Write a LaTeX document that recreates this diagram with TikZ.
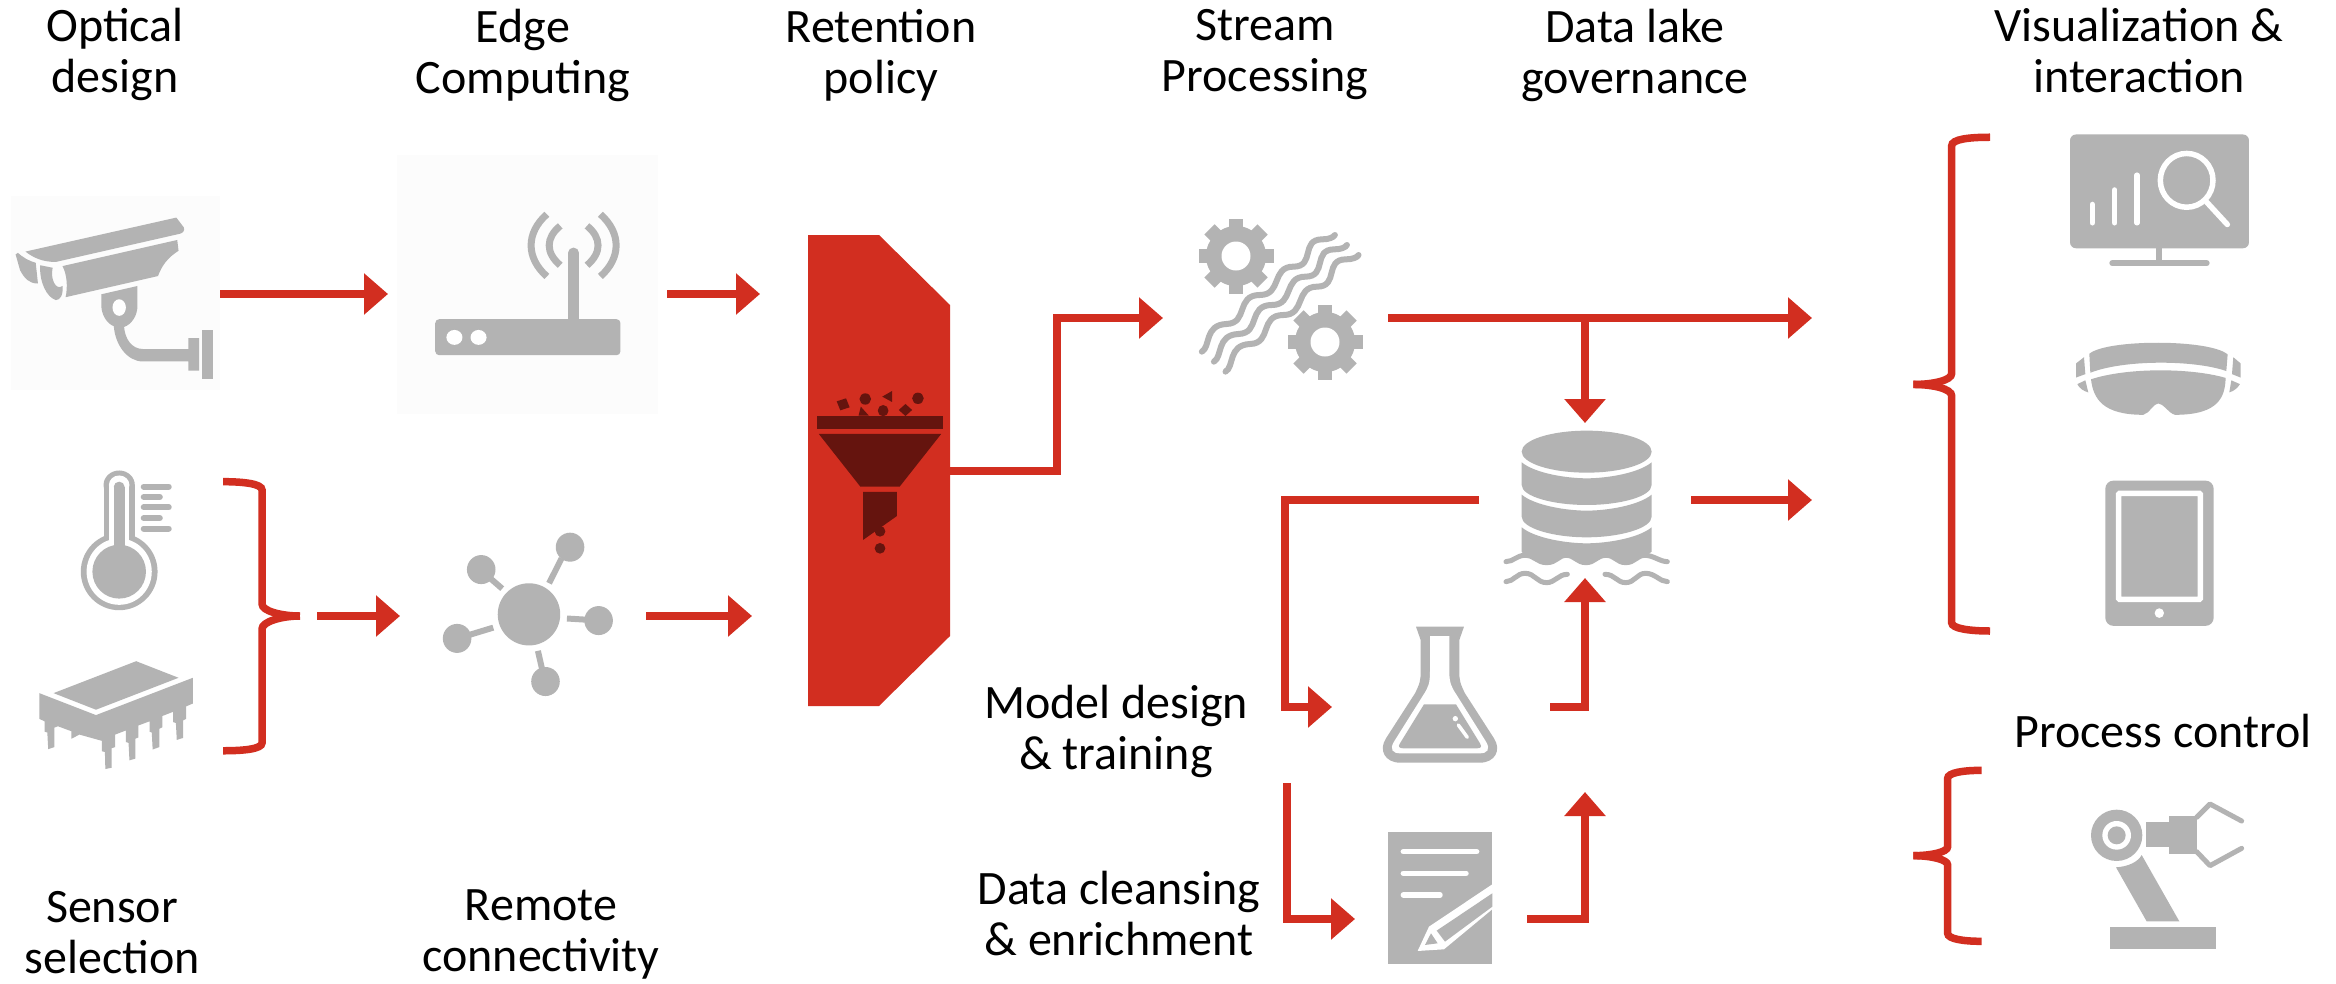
\documentclass[tikz,border=0pt]{standalone}
\usepackage{fontspec}
\setmainfont{Carlito}
\usetikzlibrary{arrows.meta}
\definecolor{flowred}{HTML}{D22E20}
\definecolor{icongrey}{HTML}{B3B3B3}
\definecolor{funneldark}{HTML}{65140E}
\definecolor{imgbg}{HTML}{FCFCFC}
\tikzset{
  flow/.style={draw=flowred,line width=8.5pt,-{Triangle[length=24pt,width=40pt]}},
  bracepath/.style={draw=flowred,line width=7.5pt},
  icon/.style={fill=icongrey,draw=none},
  iconline/.style={draw=icongrey,line cap=round,line width=6pt},
  whiteline/.style={draw=white,line cap=round,line width=5.5pt},
  dark/.style={fill=funneldark,draw=none},
  label/.style={font=\fontsize{48}{51}\selectfont,align=center,inner sep=0pt,text=black},
  zoomone/.style={shift={(0,150)},x=0.4464pt,y=-0.4146pt},
  zoomtwo/.style={shift={(780,200)},x=0.4464pt,y=-0.3333pt},
  zoomthree/.style={shift={(1900,120)},x=0.3333pt,y=-0.3448pt},
  zoomfour/.style={shift={(1250,600)},x=0.3333pt,y=-0.3333pt},
  zoomfive/.style={shift={(1900,730)},x=0.3333pt,y=-0.3333pt},
  zoomsix/.style={shift={(1480,280)},x=0.3333pt,y=-0.3333pt}
}
\newcommand\thermolayer[5]{%
  \fill[#5] (267,#2+#1) ellipse [x radius=#1,y radius=#1];
  \fill[#5] (267-#1,#2+#1) rectangle (267+#1,1017);
  \fill[#5] (267,1017) ellipse [x radius=#3,y radius=#4];}
\newcommand\gearicon[2]{%
  \fill[icon] (#1,#2) circle [radius=30];
  \foreach \gearangle in {0,45,...,315}
    \draw[draw=icongrey,line width=14.5pt,line join=round] (#1,#2) ++(\gearangle:26) -- ++(\gearangle:11.5);
  \fill[white] (#1,#2) circle [radius=14.5];}
\begin{document}
\begin{tikzpicture}[x=1pt,y=-1pt]
\useasboundingbox (0,0) rectangle (2336,983);
\fill[white] (0,0) rectangle (2336,983);

% faint image backgrounds
\fill[imgbg] (11,196) rectangle (220,390);
\fill[imgbg] (397,155) rectangle (658,414);

% ---------- left column icons
\begin{scope}[zoomone]
  % camera
  \fill[icon] (57,245) -- (395,163) -- (412,187) .. controls (414,195) and (410,200) .. (403,202) -- (125,270) .. controls (95,270) and (75,260) .. cycle;
  \fill[icon] (140,280) -- (397,217) -- (400,243) .. controls (375,260) and (362,280) .. (354,304) -- (147,355) .. controls (152,330) and (150,300) .. cycle;
  \fill[icon] (35,252) -- (40,248) .. controls (50,258) and (65,268) .. (80,272) -- (85,322) .. controls (65,322) and (55,310) .. (45,290) -- cycle;
  \fill[icon] (90,278) -- (118,284) .. controls (112,310) and (125,340) .. (140,328) .. controls (142,350) and (135,362) .. (125,362) .. controls (105,355) and (88,320) .. cycle;
  \fill[icon] (227,348) -- (308,328) -- (308,375) .. controls (308,400) and (295,420) .. (278,427) .. controls (280,455) and (295,480) .. (320,480) -- (422,480) -- (422,454) -- (446,454) -- (446,532) -- (422,532) -- (422,510) -- (320,510) .. controls (285,510) and (258,470) .. (255,425) .. controls (238,418) and (227,395) .. (227,375) -- cycle;
  \fill[white] (267,380) ellipse [x radius=15,y radius=20];
  \fill[icon] (453,433) rectangle (477,552);
  % router
  \fill[icon,rounded corners=4pt] (975,408) rectangle (1390,495);
  \fill[white] (1018,452) ellipse [x radius=18,y radius=18];
  \fill[white] (1072,452) ellipse [x radius=18,y radius=18];
  \draw[draw=icongrey,line width=10.5pt,line cap=round] (1285,420) -- (1285,248);
  \draw[draw=icongrey,line width=7pt] (1225,155) .. controls (1178,200) and (1178,260) .. (1225,305);
  \draw[draw=icongrey,line width=7pt] (1255,183) .. controls (1222,212) and (1222,248) .. (1255,278);
  \draw[draw=icongrey,line width=7pt] (1315,183) .. controls (1348,212) and (1348,248) .. (1315,278);
  \draw[draw=icongrey,line width=7pt] (1345,155) .. controls (1392,200) and (1392,260) .. (1345,305);
  % thermometer
  \thermolayer{35}{773}{86}{93}{icongrey}
  \thermolayer{23}{785}{73}{80}{white}
  \thermolayer{12}{800}{60}{65}{icongrey}
  \draw[iconline] (322,812) -- (378,812);
  \draw[iconline] (322,837) -- (358,837);
  \draw[iconline] (322,862) -- (378,862);
  \draw[iconline] (322,888) -- (358,888);
  \draw[iconline] (322,913) -- (378,913);
  % chip
  \fill[icon] (120,1310) -- (305,1233) -- (400,1273) -- (215,1350) -- cycle;
  \fill[icon] (88,1310) -- (215,1363) -- (432,1273) -- (432,1335) -- (417,1342) -- (417,1372) -- (410,1376) -- (410,1418) -- (396,1423) -- (394,1382) -- (388,1380) -- (388,1355) -- (364,1365) -- (364,1392) -- (357,1396) -- (357,1440) -- (342,1446) -- (340,1405) -- (335,1403) -- (335,1378) -- (310,1388) -- (310,1417) -- (303,1420) -- (303,1468) -- (290,1472) -- (288,1430) -- (282,1428) -- (282,1400) -- (258,1410) -- (258,1440) -- (250,1443) -- (250,1490) -- (236,1493) -- (235,1452) -- (228,1450) -- (228,1425) -- (178,1410) -- (160,1420) -- (160,1402) -- (130,1390) -- (122,1393) -- (122,1440) -- (108,1445) -- (106,1405) -- (100,1403) -- (100,1378) -- (88,1372) -- cycle;
  % connectivity hub
  \fill[icon] (1185,1120) ellipse [x radius=70,y radius=75];
  \fill[icon] (1277,958) ellipse [x radius=32,y radius=35];
  \fill[icon] (1078,1012) ellipse [x radius=32,y radius=35];
  \fill[icon] (1341,1135) ellipse [x radius=32,y radius=35];
  \fill[icon] (1024,1178) ellipse [x radius=32,y radius=35];
  \fill[icon] (1222,1282) ellipse [x radius=32,y radius=35];
  \draw[draw=icongrey,line width=6pt] (1230,1045) -- (1258,985);
  \draw[draw=icongrey,line width=6pt] (1125,1058) -- (1095,1030);
  \draw[draw=icongrey,line width=6pt] (1270,1130) -- (1315,1133);
  \draw[draw=icongrey,line width=6pt] (1105,1152) -- (1050,1170);
  \draw[draw=icongrey,line width=6pt] (1205,1208) -- (1215,1255);
  % first brace
  \draw[bracepath] (500,800) .. controls (545,800) and (587,805) .. (587,820) -- (587,1095) .. controls (587,1112) and (630,1124) .. (672,1124);
  \draw[bracepath] (672,1124) .. controls (630,1124) and (587,1138) .. (587,1155) -- (587,1430) .. controls (587,1445) and (545,1449) .. (500,1449);
\end{scope}

% ---------- retention funnel
\fill[flowred] (808,235) -- (879,235) -- (950,305) -- (950,636) -- (879,706) -- (808,706) -- cycle;
\begin{scope}[zoomtwo]
  \fill[dark] (82,647) rectangle (366,686);
  \fill[dark] (87,702) -- (361,702) -- (268,860) -- (180,860) -- cycle;
  \fill[dark] (186,876) -- (262,876) -- (262,948) -- (186,1020) -- cycle;
  \fill[dark] (224,994) ellipse [x radius=12,y radius=16];
  \fill[dark] (224,1045) ellipse [x radius=12,y radius=16];
  \fill[dark] (191,597) ellipse [x radius=13,y radius=17];
  \fill[dark] (309,595) ellipse [x radius=13,y radius=17];
  \fill[dark] (231,632) ellipse [x radius=12,y radius=17];
  \fill[dark] (281,612) -- (296,630) -- (281,648) -- (266,630) -- cycle;
  \fill[dark] (127,604) -- (148,595) -- (156,622) -- (135,631) -- cycle;
  \fill[dark] (251,573) -- (229,590) -- (251,606) -- cycle;
  \fill[dark] (181,620) -- (199,647) -- (176,647) -- cycle;
  % stream waves
  \foreach \wavedx/\wavedy in {0/0,27/30,53/60}
    \draw[iconline,xshift=\wavedx*0.4464pt,yshift=-\wavedy*0.3333pt]
      (945,455) .. controls (965,440) and (950,375) .. (1000,372) .. controls (1050,370) and (1020,285) .. (1075,285) .. controls (1125,285) and (1100,200) .. (1150,200) .. controls (1200,200) and (1165,118) .. (1215,118) .. controls (1230,118) and (1240,112) .. (1243,105);
\end{scope}
\gearicon{1236}{256}
\gearicon{1325}{342}

% ---------- data lake
\begin{scope}[zoomsix]
  \fill[icon] (320,515) ellipse [x radius=195,y radius=63];
  \fill[icon] (125,547) .. controls (165,580) and (260,595) .. (320,595) .. controls (380,595) and (475,580) .. (515,547) -- (515,615) .. controls (515,650) and (420,675) .. (320,675) .. controls (220,675) and (125,650) .. (125,615) -- cycle;
  \fill[icon] (125,644) .. controls (165,677) and (260,692) .. (320,692) .. controls (380,692) and (475,677) .. (515,644) -- (515,710) .. controls (515,745) and (420,772) .. (320,772) .. controls (220,772) and (125,745) .. (125,710) -- cycle;
  \fill[icon] (125,742) .. controls (165,775) and (260,790) .. (320,790) .. controls (380,790) and (475,775) .. (515,742) -- (515,815) -- (495,830) .. controls (470,830) and (465,850) .. (437,850) .. controls (410,850) and (405,830) .. (378,830) .. controls (350,830) and (345,850) .. (318,850) .. controls (290,850) and (285,830) .. (258,830) .. controls (235,830) and (230,850) .. (200,850) .. controls (170,850) and (165,830) .. (135,830) -- (125,815) -- cycle;
  \draw[iconline,line width=5pt] (78,845) .. controls (100,845) and (110,826) .. (135,826) .. controls (165,826) and (170,848) .. (200,848) .. controls (230,848) and (235,826) .. (258,826) .. controls (285,826) and (290,848) .. (318,848) .. controls (345,848) and (350,826) .. (378,826) .. controls (405,826) and (410,848) .. (437,848) .. controls (465,848) and (470,826) .. (495,826) .. controls (520,826) and (540,845) .. (562,845);
  \draw[iconline,line width=5pt] (78,905) .. controls (100,905) and (110,880) .. (135,880) .. controls (165,880) and (170,908) .. (200,908) .. controls (225,908) and (235,883) .. (262,883);
  \draw[iconline,line width=5pt] (375,883) .. controls (405,883) and (410,908) .. (437,908) .. controls (465,908) and (470,880) .. (497,880) .. controls (525,880) and (540,905) .. (562,905);
\end{scope}

% ---------- flask and document
\begin{scope}[zoomfour]
  \fill[icon] (498,80) -- (642,80) -- (628,120) -- (628,215) .. controls (628,240) and (630,250) .. (645,280) -- (732,415) .. controls (755,450) and (735,488) .. (690,488) -- (450,488) .. controls (405,488) and (385,450) .. (408,415) -- (495,280) .. controls (510,250) and (512,240) .. (512,215) -- (512,120) -- cycle;
  \fill[white] (540,108) -- (598,108) -- (598,215) .. controls (598,250) and (605,262) .. (620,285) -- (708,425) .. controls (722,448) and (712,460) .. (690,460) -- (450,460) .. controls (428,460) and (418,448) .. (432,425) -- (520,285) .. controls (535,262) and (540,250) .. (540,215) -- cycle;
  \fill[icon] (522,313) -- (618,313) -- (690,430) .. controls (698,443) and (690,445) .. (680,445) -- (460,445) .. controls (448,445) and (443,440) .. (450,430) -- cycle;
  \fill[white] (616,356) circle [radius=8];
  \draw[draw=white,line width=3.5pt,line cap=round] (625,375) -- (652,412);
  % document
  \fill[icon] (413,696) rectangle (727,1093);
  \draw[whiteline] (460,755) -- (680,755);
  \draw[whiteline] (460,820) -- (648,820);
  \draw[whiteline] (460,885) -- (570,885);
  \fill[white] (537,980) -- (727,853) -- (752,907) -- (582,1048) -- (503,1053) -- cycle;
  \fill[icon] (560,992) -- (727,880) -- (727,920) -- (585,1025) -- cycle;
  \fill[icon] (525,1035) -- (543,1000) -- (563,1030) -- cycle;
\end{scope}

% ---------- right column icons
\begin{scope}[zoomthree]
  % monitor
  \fill[icon,rounded corners=6pt] (510,42) rectangle (1047,372);
  \fill[icon] (769,372) rectangle (787,410);
  \draw[iconline] (637,415) -- (920,415);
  \draw[whiteline] (577,245) -- (577,298);
  \draw[whiteline] (644,203) -- (644,298);
  \draw[whiteline] (711,160) -- (711,298);
  \draw[draw=white,line width=5.5pt] (860,175) ellipse [x radius=79,y radius=78];
  \draw[whiteline] (920,238) -- (982,303);
  % headset
  \fill[icon] (568,678) .. controls (620,635) and (930,635) .. (983,680) -- (979,728) .. controls (880,695) and (670,695) .. (571,733) -- cycle;
  \fill[icon] (573,752) .. controls (680,718) and (870,718) .. (977,748) .. controls (975,800) and (960,855) .. (825,855) .. controls (805,850) and (790,822) .. (775,822) .. controls (760,822) and (750,850) .. (730,855) .. controls (610,855) and (580,810) .. cycle;
  \fill[icon] (552,688) -- (528,706) -- (528,747) -- (556,737) -- cycle;
  \fill[icon] (1000,688) -- (1022,706) -- (1022,747) -- (996,737) -- cycle;
  \fill[icon] (556,755) -- (532,766) .. controls (538,778) and (550,786) .. (565,790) -- cycle;
  \fill[icon] (994,755) -- (1020,766) .. controls (1012,778) and (1002,786) .. (988,790) -- cycle;
  % tablet
  \fill[icon,rounded corners=8pt] (616,1046) rectangle (941,1467);
  \draw[draw=white,line width=5.5pt,rounded corners=1pt] (656,1083) rectangle (901,1390);
  \fill[white] (778,1430) ellipse [x radius=14,y radius=14];
  % brace
  \draw[bracepath] (270,50) .. controls (210,50) and (155,55) .. (155,75) -- (155,735) .. controls (155,755) and (100,767) .. (40,767);
  \draw[bracepath] (40,767) .. controls (100,767) and (155,780) .. (155,800) -- (155,1458) .. controls (155,1475) and (210,1482) .. (270,1482);
\end{scope}

\begin{scope}[zoomfive]
  % robot arm
  \fill[icon] (650,316) circle [radius=77];
  \fill[white] (650,316) circle [radius=43];
  \fill[icon] (650,316) circle [radius=27];
  \fill[icon] (738,277) rectangle (806,352);
  \fill[icon] (806,258) rectangle (890,372);
  \draw[iconline,line width=5pt,line join=round] (890,262) -- (930,222) -- (1025,273);
  \draw[iconline,line width=5pt,line join=round] (890,365) -- (930,407) -- (1025,355);
  \fill[icon] (648,412) .. controls (685,410) and (715,395) .. (725,375) -- (838,574) -- (740,574) -- cycle;
  \fill[icon] (630,591) rectangle (949,658);
  % brace
  \draw[bracepath] (245,121) .. controls (190,121) and (143,128) .. (143,145) -- (143,350) .. controls (143,367) and (90,377) .. (40,377);
  \draw[bracepath] (40,377) .. controls (90,377) and (143,388) .. (143,405) -- (143,610) .. controls (143,627) and (190,634) .. (245,634);
\end{scope}

% ---------- connectors
\coordinate (camOut) at (220,294);
\coordinate (routerIn) at (388,294);
\coordinate (routerOut) at (667,294);
\coordinate (funnelInA) at (760,294);
\coordinate (sensorOut) at (317,616);
\coordinate (hubIn) at (400,616);
\coordinate (hubOut) at (646,616);
\coordinate (funnelInB) at (752,616);
\coordinate (funnelOut) at (950,471);
\coordinate (funnelElbowA) at (1057,471);
\coordinate (funnelElbowB) at (1057,318);
\coordinate (streamIn) at (1163,318);
\coordinate (streamOut) at (1388,318);
\coordinate (vizInA) at (1812,318);
\coordinate (streamTap) at (1585,318);
\coordinate (lakeTop) at (1585,423);
\coordinate (lakeOut) at (1691,500);
\coordinate (vizInB) at (1812,500);
\coordinate (lakeLeft) at (1479,500);
\coordinate (modelElbowA) at (1285,500);
\coordinate (modelElbowB) at (1285,707);
\coordinate (flaskIn) at (1332,707);
\coordinate (flaskOut) at (1550,707);
\coordinate (flaskElbow) at (1585,707);
\coordinate (lakeBottom) at (1585,578);
\coordinate (cleanStart) at (1287,783);
\coordinate (cleanElbow) at (1287,919);
\coordinate (docIn) at (1355,919);
\coordinate (docOut) at (1527,919);
\coordinate (docElbow) at (1585,919);
\coordinate (docArrowEnd) at (1585,792);

\draw[flow] (camOut) -- (routerIn);
\draw[flow] (routerOut) -- (funnelInA);
\draw[flow] (sensorOut) -- (hubIn);
\draw[flow] (hubOut) -- (funnelInB);
\draw[flow] (funnelOut) -- (funnelElbowA) -- (funnelElbowB) -- (streamIn);
\draw[flow] (streamOut) -- (vizInA);
\draw[flow] (streamTap) -- (lakeTop);
\draw[flow] (lakeOut) -- (vizInB);
\draw[flow] (lakeLeft) -- (modelElbowA) -- (modelElbowB) -- (flaskIn);
\draw[flow] (flaskOut) -- (flaskElbow) -- (lakeBottom);
\draw[flow] (cleanStart) -- (cleanElbow) -- (docIn);
\draw[flow] (docOut) -- (docElbow) -- (docArrowEnd);

% ---------- labels
\node[label] (optical) at (115,54) {Optical\\design};
\node[label] (edge) at (523,55) {Edge\\Computing};
\node[label] (retention) at (881,55) {Retention\\policy};
\node[label] (stream) at (1265,55) {Stream\\Processing};
\node[label] (lake) at (1635,55) {Data lake\\governance};
\node[label] (viz) at (2139,51) {Visualization \&\\interaction};
\node[label] (process) at (2163,731) {Process control};
\node[label] (sensor) at (112,933) {Sensor\\selection};
\node[label] (remote) at (541,934) {Remote\\connectivity};
\node[label] (model) at (1116,731) {Model design\\\& training};
\node[label] (clean) at (1119,913) {Data cleansing\\\& enrichment};
\end{tikzpicture}
\end{document}
